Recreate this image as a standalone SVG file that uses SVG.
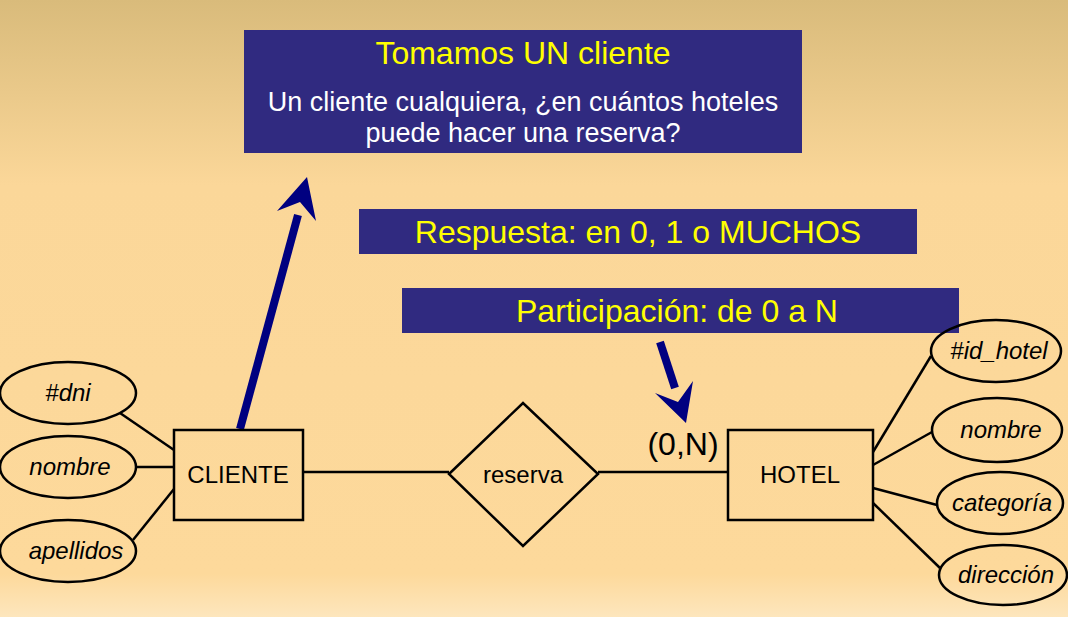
<svg xmlns="http://www.w3.org/2000/svg" width="1068" height="617" viewBox="0 0 1068 617">
<defs>
<linearGradient id="bg" x1="0" y1="0" x2="0" y2="1">
<stop offset="0" stop-color="#d9bb7b"/>
<stop offset="0.3" stop-color="#fbd799"/>
<stop offset="0.93" stop-color="#fdd99b"/>
<stop offset="1" stop-color="#fde6bd"/>
</linearGradient>
<style>
.box{fill:#302a80;}
.ent{fill:none;stroke:#000;stroke-width:2.5;}
.ln{stroke:#000;stroke-width:2.5;fill:none;}
.t{font-family:"Liberation Sans",Arial,sans-serif;fill:#000;text-anchor:middle;font-size:24px;}
.at{font-family:"Liberation Sans",Arial,sans-serif;font-style:italic;font-size:24px;fill:#000;text-anchor:middle;}
.y{font-family:"Liberation Sans",Arial,sans-serif;fill:#ffff00;text-anchor:middle;font-size:32px;}
.w{font-family:"Liberation Sans",Arial,sans-serif;fill:#ffffff;text-anchor:middle;font-size:27px;}
.arr{fill:#000080;}
</style>
</defs>
<rect x="0" y="0" width="1068" height="617" fill="url(#bg)"/>

<g id="note-title">
<rect class="box" x="244" y="30" width="558" height="123"/>
<text class="y" x="523" y="64">Tomamos UN cliente</text>
<text class="w" x="523" y="111">Un cliente cualquiera, ¿en cuántos hoteles</text>
<text class="w" x="523" y="142">puede hacer una reserva?</text>
</g>
<g id="note-respuesta">
<rect class="box" x="359" y="209" width="558" height="45"/>
<text class="y" x="638" y="243">Respuesta: en 0, 1 o MUCHOS</text>
</g>
<g id="note-participacion">
<rect class="box" x="402" y="288" width="557" height="45"/>
<text class="y" x="677" y="322">Participación: de 0 a N</text>
</g>

<g id="connectors">
<line class="ln" x1="120" y1="413" x2="174" y2="450"/>
<line class="ln" x1="137" y1="467" x2="174" y2="467"/>
<line class="ln" x1="133" y1="540" x2="174" y2="489"/>
<line class="ln" x1="303" y1="472" x2="449" y2="472"/>
<line class="ln" x1="598" y1="472" x2="728" y2="472"/>
<line class="ln" x1="873" y1="452" x2="931" y2="356"/>
<line class="ln" x1="873" y1="465" x2="932" y2="432"/>
<line class="ln" x1="873" y1="488" x2="937" y2="505"/>
<line class="ln" x1="873" y1="503" x2="940" y2="568"/>
<line x1="240" y1="429" x2="298" y2="215" stroke="#000080" stroke-width="8"/>
<polygon class="arr" points="307,177 316,221 300,202 277,211"/>
<line x1="660" y1="342" x2="675" y2="388" stroke="#000080" stroke-width="8"/>
<polygon class="arr" points="686,423 655,393 678,402 693,381"/>
</g>

<g id="cliente">
<rect class="ent" x="174" y="430" width="129" height="90"/>
<text class="t" x="238" y="483">CLIENTE</text>
</g>
<g id="hotel">
<rect class="ent" x="728" y="430" width="145" height="90"/>
<text class="t" x="800" y="483">HOTEL</text>
</g>
<g id="reserva">
<polygon class="ent" points="449,474 523,403 598,474 523,546"/>
<text class="t" x="523" y="483">reserva</text>
</g>
<g id="card">
<text class="t" x="683" y="455" font-size="32" style="font-size:32px">(0,N)</text>
</g>

<g id="attr-dni">
<ellipse class="ent" cx="68" cy="393" rx="68" ry="31"/>
<text class="at" x="68" y="401">#dni</text>
</g>
<g id="attr-nombre-c">
<ellipse class="ent" cx="68" cy="467" rx="68" ry="31"/>
<text class="at" x="70" y="475">nombre</text>
</g>
<g id="attr-apellidos">
<ellipse class="ent" cx="68" cy="551" rx="68" ry="31"/>
<text class="at" x="76" y="559">apellidos</text>
</g>
<g id="attr-id-hotel">
<ellipse class="ent" cx="996" cy="351" rx="65" ry="31"/>
<text class="at" x="999" y="359">#id_hotel</text>
</g>
<g id="attr-nombre-h">
<ellipse class="ent" cx="997" cy="430" rx="65" ry="32"/>
<text class="at" x="1001" y="438">nombre</text>
</g>
<g id="attr-categoria">
<ellipse class="ent" cx="1000" cy="503" rx="63" ry="31"/>
<text class="at" x="1002" y="511">categoría</text>
</g>
<g id="attr-direccion">
<ellipse class="ent" cx="1003" cy="575" rx="64" ry="30"/>
<text class="at" x="1006" y="583">dirección</text>
</g>
</svg>
